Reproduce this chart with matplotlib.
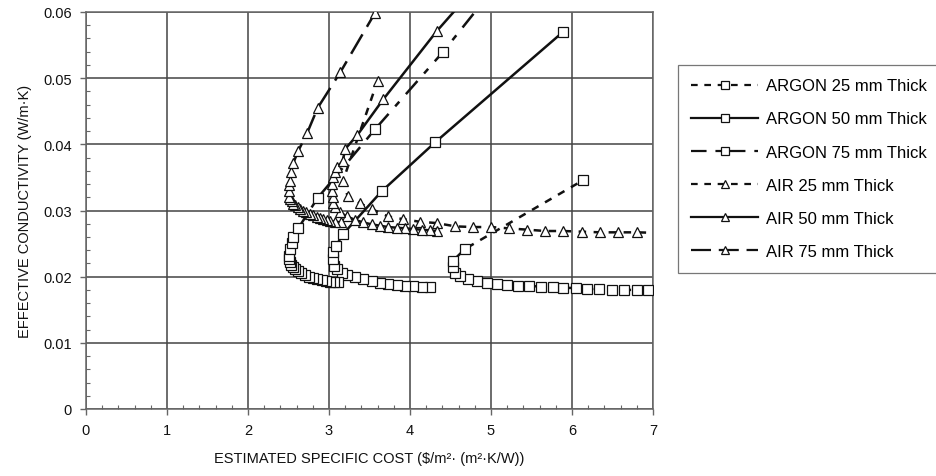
import matplotlib
matplotlib.use("Agg")
import matplotlib.pyplot as plt
from matplotlib.ticker import MultipleLocator, FixedLocator

plt.rcParams['font.family'] = ['Liberation Sans', 'DejaVu Sans']

# ---------------- data ----------------
argon25_x = [7.10, 6.94, 6.80, 6.64, 6.49, 6.33, 6.19, 6.05, 5.89, 5.76, 5.62, 5.47, 5.33,
             5.20, 5.07, 4.95, 4.83, 4.72, 4.62, 4.56, 4.53, 4.53, 4.68, 6.14]
argon25_y = [0.0180, 0.0180, 0.0180, 0.0180, 0.0180, 0.0181, 0.0182, 0.0183, 0.0183, 0.0184,
             0.0185, 0.0186, 0.0186, 0.0187, 0.0189, 0.0190, 0.0193, 0.0196, 0.0201, 0.0206,
             0.0214, 0.0224, 0.0242, 0.0346]

argon50_x = [4.25, 4.15, 4.04, 3.94, 3.84, 3.73, 3.63, 3.53, 3.42, 3.32, 3.22, 3.16, 3.10,
             3.06, 3.05, 3.05, 3.09, 3.17, 3.65, 4.31, 5.89]
argon50_y = [0.0185, 0.0185, 0.0186, 0.0186, 0.0187, 0.0189, 0.0191, 0.0194, 0.0196, 0.0199,
             0.0202, 0.0205, 0.0211, 0.0216, 0.0227, 0.0237, 0.0247, 0.0264, 0.0329, 0.0403,
             0.0570]

argon75_x = [3.11, 3.06, 3.01, 2.96, 2.91, 2.85, 2.80, 2.75, 2.70, 2.66, 2.62, 2.58, 2.56,
             2.53, 2.52, 2.51, 2.51, 2.52, 2.54, 2.56, 2.62, 2.86, 3.57, 4.41, 5.20]
argon75_y = [0.0192, 0.0192, 0.0192, 0.0193, 0.0195, 0.0196, 0.0198, 0.0200, 0.0202, 0.0205,
             0.0209, 0.0211, 0.0214, 0.0218, 0.0222, 0.0227, 0.0231, 0.0242, 0.0251, 0.0260,
             0.0273, 0.0319, 0.0423, 0.0540, 0.0661]

air25_x = [7.10, 6.80, 6.57, 6.35, 6.12, 5.89, 5.67, 5.45, 5.22, 5.00, 4.78, 4.56, 4.33,
           4.12, 3.91, 3.73, 3.53, 3.38, 3.23, 3.17, 3.60]
air25_y = [0.0266, 0.0267, 0.0267, 0.0267, 0.0268, 0.0269, 0.0269, 0.0271, 0.0273, 0.0275,
           0.0275, 0.0276, 0.0281, 0.0283, 0.0287, 0.0291, 0.0302, 0.0311, 0.0322, 0.0344,
           0.0496]

air50_x = [4.33, 4.25, 4.15, 4.04, 3.94, 3.84, 3.73, 3.63, 3.53, 3.42, 3.32, 3.22, 3.14,
           3.07, 3.05, 3.05, 3.04, 3.04, 3.05, 3.07, 3.10, 3.17, 3.20, 3.35, 3.67, 4.33, 5.20]
air50_y = [0.0269, 0.0270, 0.0271, 0.0272, 0.0273, 0.0274, 0.0275, 0.0277, 0.0279, 0.0282,
           0.0286, 0.0291, 0.0297, 0.0305, 0.0311, 0.0320, 0.0329, 0.0340, 0.0350, 0.0358,
           0.0365, 0.0375, 0.0393, 0.0414, 0.0468, 0.0571, 0.0692]

air75_x = [3.15, 3.08, 3.01, 2.97, 2.93, 2.89, 2.85, 2.80, 2.77, 2.72, 2.68, 2.64, 2.62,
           2.58, 2.56, 2.54, 2.52, 2.51, 2.50, 2.51, 2.52, 2.53, 2.56, 2.62, 2.73, 2.86,
           3.14, 3.57]
air75_y = [0.0282, 0.0283, 0.0284, 0.0285, 0.0287, 0.0288, 0.0290, 0.0293, 0.0295, 0.0298,
           0.0300, 0.0302, 0.0305, 0.0308, 0.0310, 0.0314, 0.0317, 0.0321, 0.0330, 0.0338,
           0.0345, 0.0358, 0.0372, 0.0390, 0.0417, 0.0455, 0.0509, 0.0599]

labels = ["ARGON 25 mm Thick", "ARGON 50 mm Thick", "ARGON 75 mm Thick",
          "AIR 25 mm Thick", "AIR 50 mm Thick", "AIR 75 mm Thick"]
x_ticks = [0, 1, 2, 3, 4, 5, 6, 7]
y_ticks = [0, 0.01, 0.02, 0.03, 0.04, 0.05, 0.06]
y_ticklabels = ["0", "0.01", "0.02", "0.03", "0.04", "0.05", "0.06"]

# ---------------- figure ----------------
fig = plt.figure(figsize=(9.37, 4.77), dpi=100)
ax = fig.add_axes([86/937, 1 - 410/477, (653 - 86)/937, (410 - 13)/477])

ink = "#111111"
short_dash = (0, (3.0, 3.0))
long_short = (0, (7.0, 4.0, 2.5, 4.0))
long_dash = (0, (9.0, 3.5))

series = [
    (argon25_x, argon25_y, 's', short_dash, labels[0]),
    (argon50_x, argon50_y, 's', '-', labels[1]),
    (argon75_x, argon75_y, 's', long_short, labels[2]),
    (air25_x, air25_y, '^', short_dash, labels[3]),
    (air50_x, air50_y, '^', '-', labels[4]),
    (air75_x, air75_y, '^', long_dash, labels[5]),
]

for xs, ys, mk, ls, lab in series:
    ax.plot(xs, ys, linestyle=ls, color=ink, linewidth=1.8,
            marker=mk, markersize=7 if mk == 's' else 7.5,
            markerfacecolor='white', markeredgecolor=ink, markeredgewidth=0.9,
            label=lab, zorder=3)

ax.set_xlim(0, 7)
ax.set_ylim(0, 0.06)
ax.xaxis.set_major_locator(FixedLocator(x_ticks))
ax.yaxis.set_major_locator(FixedLocator(y_ticks))
ax.set_yticklabels(y_ticklabels)
ax.xaxis.set_minor_locator(MultipleLocator(0.2))
ax.yaxis.set_minor_locator(MultipleLocator(0.002))

ax.grid(True, which='major', color='#444444', linewidth=1.1, zorder=1)
ax.set_axisbelow(True)
for s in ax.spines.values():
    s.set_color('#666666')
    s.set_linewidth(1.1)

ax.tick_params(which='major', direction='out', length=4, width=1, color='#666666',
               labelsize=10.5, labelcolor='#111111', pad=6)
ax.tick_params(which='minor', direction='in', length=3, width=0.8, color='#666666')

ax.set_xlabel("ESTIMATED SPECIFIC COST ($/m\u00b2\u00b7 (m\u00b2\u00b7K/W))", fontsize=10.5,
              color='#111111', labelpad=10)
ax.set_ylabel("EFFECTIVE CONDUCTIVITY (W/m\u00b7K)", fontsize=10.5, color='#111111', labelpad=8)

leg = fig.legend(loc='upper left', bbox_to_anchor=(678/937, 1 - 66/477),
                 frameon=True, fancybox=False, edgecolor='#555555',
                 fontsize=12, handlelength=4.0, handletextpad=0.5,
                 labelspacing=1.09, borderpad=0.8, borderaxespad=0.0)
leg.get_frame().set_linewidth(0.9)
for h in leg.legend_handles:
    h.set_markersize(6)
    h.set_linewidth(1.6)

fig.savefig("out.png", dpi=100)
